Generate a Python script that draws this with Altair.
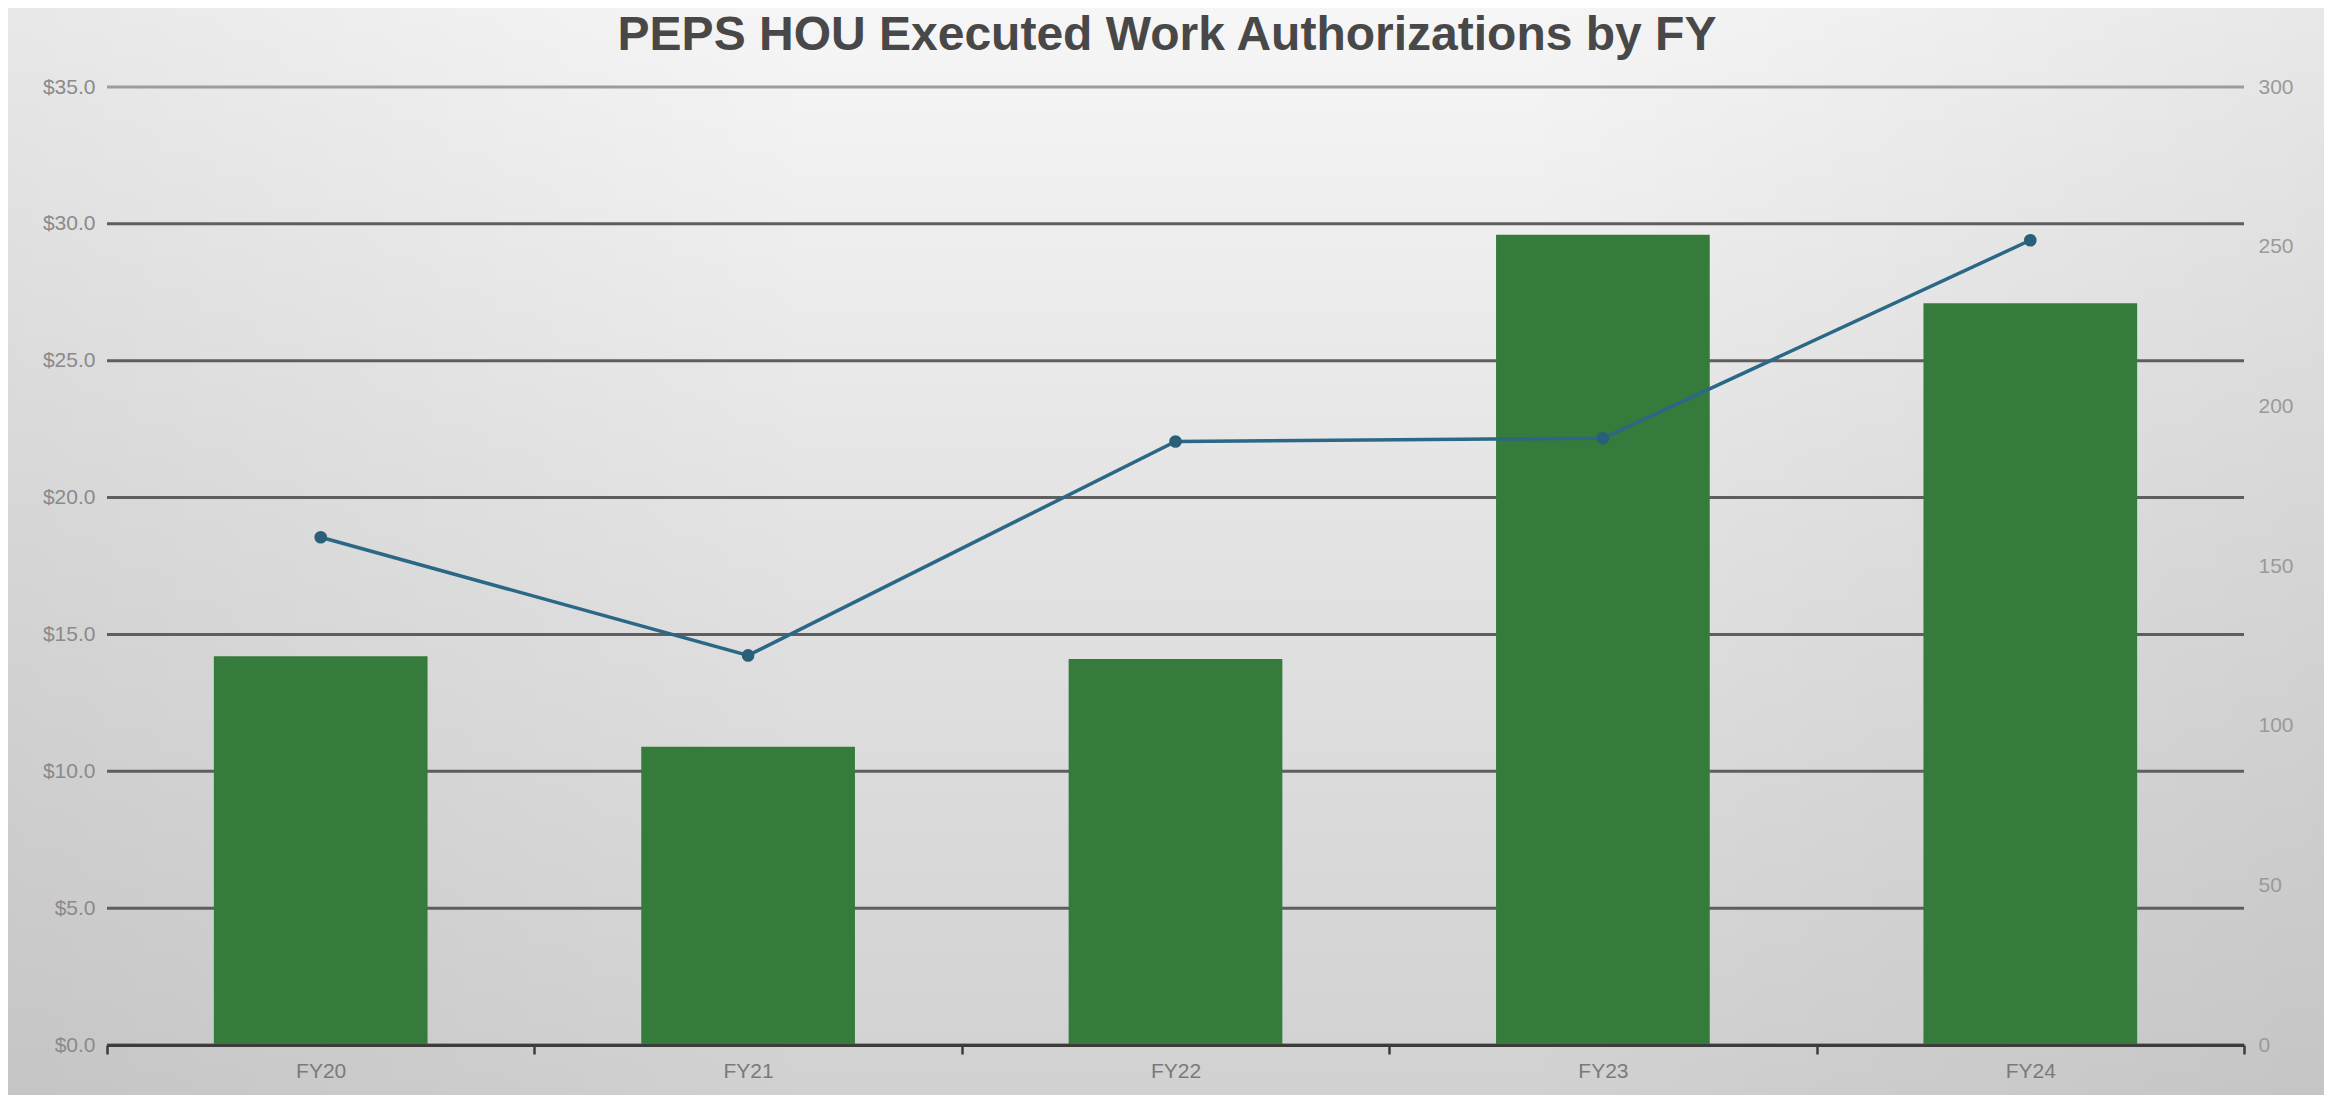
import altair as alt
import pandas as pd

# ---- data ----
fiscal_years = ["FY20", "FY21", "FY22", "FY23", "FY24"]
amounts_musd = [14.2, 10.9, 14.1, 29.6, 27.1]     # left axis ($M)
wa_counts = [159, 122, 189, 190, 252]             # right axis (count)
left_ticks = [0, 5, 10, 15, 20, 25, 30, 35]
right_ticks = [0, 50, 100, 150, 200, 250, 300]
title_text = ["PEPS HOU Executed Work Authorizations by FY"]

W, H = 2137, 958
PAD = {"left": 99, "top": 79, "right": 80, "bottom": 50}

df = pd.DataFrame({"fy": fiscal_years, "amount": amounts_musd, "count": wa_counts})
grid_df = pd.DataFrame({"v": left_ticks})
title_df = pd.DataFrame({"t": title_text})

x_enc = alt.X(
    "fy:N",
    sort=fiscal_years,
    title=None,
    scale=alt.Scale(paddingInner=0, paddingOuter=0),
    axis=alt.Axis(
        labelAngle=0,
        labelFont="Liberation Sans",
        labelFontSize=21,
        labelColor="#7a7a7a",
        labelPadding=6,
        domainColor="#3c3c3c",
        domainWidth=3,
        ticks=True,
        tickBand="extent",
        tickSize=9,
        tickWidth=2.5,
        tickColor="#3c3c3c",
        grid=False,
        zindex=1,
    ),
)

left_scale = alt.Scale(domain=[0, 35], nice=False)

full_box = dict(
    x=alt.value(-PAD["left"]),
    x2=alt.value(W + PAD["right"]),
    y=alt.value(-PAD["top"]),
    y2=alt.value(H + PAD["bottom"]),
)

bg = alt.Chart(title_df).mark_rect(
    fill=alt.LinearGradient(
        gradient="linear",
        x1=0, y1=0, x2=0, y2=1,
        stops=[
            alt.GradientStop(color="#f6f6f6", offset=0),
            alt.GradientStop(color="#e4e4e4", offset=0.45),
            alt.GradientStop(color="#d1d1d1", offset=1),
        ],
    )
).encode(**full_box)

vignette = alt.Chart(title_df).mark_rect(
    fill=alt.LinearGradient(
        gradient="linear",
        x1=0, y1=0, x2=1, y2=0,
        stops=[
            alt.GradientStop(color="rgba(0,0,0,0.06)", offset=0),
            alt.GradientStop(color="rgba(0,0,0,0)", offset=0.35),
            alt.GradientStop(color="rgba(0,0,0,0)", offset=0.65),
            alt.GradientStop(color="rgba(0,0,0,0.06)", offset=1),
        ],
    )
).encode(**full_box)

title = alt.Chart(title_df).mark_text(
    font="Liberation Sans",
    fontSize=48,
    fontWeight="bold",
    color="#484848",
    align="center",
    baseline="middle",
).encode(x=alt.value(1060), y=alt.value(-51), text="t:N")

grid = alt.Chart(grid_df).mark_rule(strokeWidth=3).encode(
    y=alt.Y(
        "v:Q",
        scale=left_scale,
        axis=alt.Axis(
            title=None,
            values=left_ticks,
            format="$.1f",
            labelFont="Liberation Sans",
            labelFontSize=21,
            labelColor="#8a8a8a",
            labelPadding=12,
            domain=False,
            ticks=False,
            grid=False,
            zindex=1,
        ),
    ),
    x=alt.value(0),
    x2=alt.value(W),
    color=alt.condition(alt.datum.v == 35, alt.value("#9c9c9c"), alt.value("#5e5e5e")),
)

bars = alt.Chart(df).mark_bar(color="#357b3b", width=alt.RelativeBandSize(0.5)).encode(
    x=x_enc,
    y=alt.Y("amount:Q", scale=left_scale, title=None),
)

left_layer = alt.layer(bg, vignette, title, grid, bars)

line = alt.Chart(df).mark_line(
    color="#2b6786",
    strokeWidth=3.5,
    point=alt.OverlayMarkDef(filled=True, color="#2a5f7a", size=160, opacity=1),
).encode(
    x=alt.X("fy:N", sort=fiscal_years),
    y=alt.Y(
        "count:Q",
        scale=alt.Scale(domain=[0, 300], nice=False),
        title=None,
        axis=alt.Axis(
            orient="right",
            values=right_ticks,
            labelFont="Liberation Sans",
            labelFontSize=21,
            labelColor="#9a9a9a",
            labelPadding=14,
            domain=False,
            ticks=False,
            grid=False,
            zindex=1,
        ),
    ),
)

chart = (
    alt.layer(left_layer, line)
    .resolve_scale(y="independent")
    .properties(
        width=W,
        height=H,
        autosize=alt.AutoSizeParams(type="none"),
        padding=PAD,
        background="#eeeeee",
    )
    .configure_view(stroke=None)
)

chart.save("out.html", embed_options={"renderer": "svg", "actions": False})
